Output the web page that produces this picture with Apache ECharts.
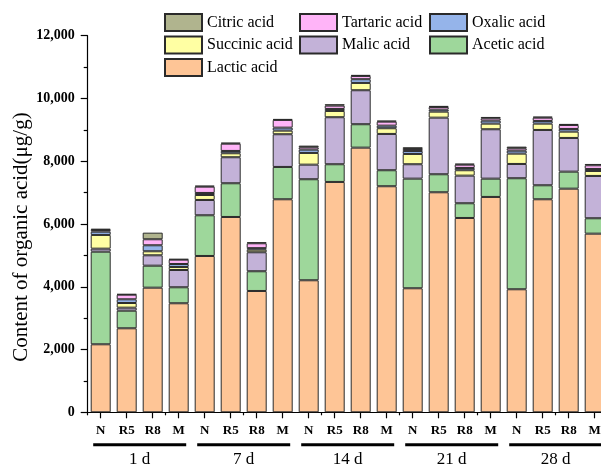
<!DOCTYPE html>
<html>
<head>
<meta charset="utf-8">
<script src="https://cdn.jsdelivr.net/npm/echarts@6/dist/echarts.min.js"></script>
<style>
  html, body { margin: 0; padding: 0; background: #fff; }
  #chart { width: 601px; height: 468px; }
</style>
</head>
<body>
<div id="chart"></div>
<script>
// Storage time groups and samples within each group
const days = ['1 d', '7 d', '14 d', '21 d', '28 d'];
const samples = ['N', 'R5', 'R8', 'M'];

// Organic acid contents (μg/g), one value per bar, ordered by day then sample
const lactic   = [2167, 2677, 3971, 3474, 4981, 6224, 3866, 6788, 4207, 7340, 8433, 7203, 3952, 7011, 6192, 6862, 3920, 6788, 7126, 5692];
const acetic   = [2951, 561, 701, 510, 1297, 1074, 628, 1030, 3219, 564, 746, 510, 3493, 574, 469, 583, 3538, 446, 542, 491];
const malic    = [96, 96, 331, 551, 488, 829, 605, 1042, 465, 1498, 1083, 1157, 459, 1804, 880, 1574, 455, 1763, 1074, 1348];
const succinic = [437, 149, 128, 96, 159, 127, 83, 115, 373, 200, 233, 181, 328, 191, 172, 179, 329, 201, 201, 159];
const oxalic   = [105, 118, 191, 95, 64, 74, 48, 95, 106, 64, 118, 83, 96, 64, 73, 95, 95, 86, 86, 64];
const tartaric = [54, 147, 192, 138, 201, 232, 156, 246, 75, 106, 105, 128, 63, 86, 105, 77, 77, 105, 127, 118];
const citric   = [41, 22, 210, 22, 32, 32, 32, 31, 52, 44, 32, 32, 55, 32, 32, 41, 51, 32, 32, 41];

// Y axis ticks
const yMin = 0, yMax = 12000, yStep = 2000;

const serif = "'Times New Roman', 'Liberation Serif', serif";

// Unique category keys: "day|sample"
const categories = [];
days.forEach(d => samples.forEach(s => categories.push(d + '|' + s)));

const acids = [
  { name: 'Lactic acid',   data: lactic,   color: '#FEC596' },
  { name: 'Acetic acid',   data: acetic,   color: '#9ED79B' },
  { name: 'Malic acid',    data: malic,    color: '#C3B2D8' },
  { name: 'Succinic acid', data: succinic, color: '#FFFFA3' },
  { name: 'Oxalic acid',   data: oxalic,   color: '#95B4EA' },
  { name: 'Tartaric acid', data: tartaric, color: '#FFB4F8' },
  { name: 'Citric acid',   data: citric,   color: '#B0B48E' }
];

const chart = echarts.init(document.getElementById('chart'), null, { renderer: 'canvas' });

const legendCommon = {
  orient: 'vertical',
  icon: 'rect',
  itemWidth: 37,
  itemHeight: 17,
  itemGap: 3.5,
  padding: 0,
  selectedMode: false,
  textStyle: { fontFamily: serif, fontSize: 16, color: '#000', padding: [0, 0, 0, 0] },
  top: 13
};

const option = {
  animation: false,
  backgroundColor: '#fff',
  legend: [
    Object.assign({}, legendCommon, { left: 164, data: ['Citric acid', 'Succinic acid', 'Lactic acid'] }),
    Object.assign({}, legendCommon, { left: 299, data: ['Tartaric acid', 'Malic acid'] }),
    Object.assign({}, legendCommon, { left: 429, data: ['Oxalic acid', 'Acetic acid'] })
  ],
  // the plot runs past the right edge of the canvas
  grid: { left: 87.7, top: 35.7, width: 520, bottom: 55.7, containLabel: false, outerBoundsMode: 'none' },
  xAxis: [
    {
      type: 'category',
      data: categories,
      boundaryGap: true,
      axisLine: { show: true, lineStyle: { color: '#000', width: 1.2 } },
      axisTick: { show: true, alignWithLabel: true, length: 6, lineStyle: { color: '#000', width: 1.2 } },
      axisLabel: {
        interval: 0,
        margin: 12,
        fontFamily: serif,
        fontWeight: 'bold',
        fontSize: 13,
        color: '#000',
        formatter: v => v.split('|')[1]
      },
      splitLine: { show: false }
    },
    {
      // short ticks on the band boundaries
      type: 'category',
      data: categories,
      position: 'bottom',
      boundaryGap: true,
      axisLine: { show: false },
      axisTick: { show: true, length: 3, lineStyle: { color: '#000', width: 1.2 } },
      axisLabel: { show: false },
      splitLine: { show: false }
    },
    {
      // storage time groups with underline
      type: 'category',
      data: days,
      position: 'bottom',
      boundaryGap: true,
      axisLine: { show: false },
      axisTick: { show: false },
      axisLabel: {
        interval: 0,
        margin: 31,
        color: '#000',
        formatter: v => '{u| }\n{t|' + v + '}',
        rich: {
          u: { width: 93, height: 3, lineHeight: 3, fontSize: 1, backgroundColor: '#000' },
          t: { fontFamily: serif, fontSize: 17, lineHeight: 27, color: '#000', verticalAlign: 'middle' }
        }
      },
      splitLine: { show: false }
    }
  ],
  yAxis: {
    type: 'value',
    min: yMin,
    max: yMax,
    interval: yStep,
    name: 'Content of organic acid(μg/g)',
    nameLocation: 'middle',
    nameGap: 56,
    nameMoveOverlap: false,
    nameTextStyle: { fontFamily: serif, fontSize: 21, color: '#000', padding: [0, 26, 0, 0] },
    axisLine: { show: true, lineStyle: { color: '#000', width: 1.2 } },
    axisTick: { show: true, length: 7, lineStyle: { color: '#000', width: 1.2 } },
    minorTick: { show: true, splitNumber: 2, length: 4, lineStyle: { color: '#000', width: 1.2 } },
    axisLabel: {
      margin: 13,
      fontFamily: serif,
      fontWeight: 'bold',
      fontSize: 14,
      color: '#000',
      formatter: v => v.toLocaleString('en-US')
    },
    splitLine: { show: false }
  },
  series: acids.map(a => ({
    name: a.name,
    type: 'bar',
    stack: 'total',
    xAxisIndex: 0,
    barWidth: 20,
    data: a.data,
    itemStyle: { color: a.color, borderColor: '#2a2a2a', borderWidth: 1 },
    emphasis: { disabled: true }
  }))
};

chart.setOption(option);
</script>
</body>
</html>
